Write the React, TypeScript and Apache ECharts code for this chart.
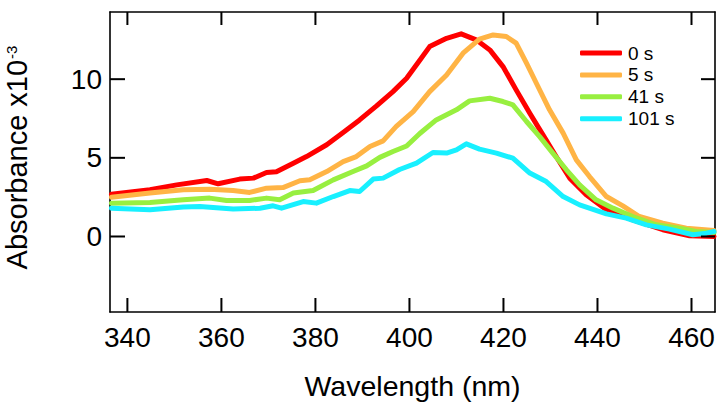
import React, { useEffect, useRef } from "react";
import * as echarts from "echarts";

const seriesNames = ["0 s", "5 s", "41 s", "101 s"];
const seriesColors = ["#ff0000", "#ffb445", "#98ef40", "#18f0ff"];

const redX = [336.6, 344.8, 350.5, 356.9, 359.3, 363.9, 366.8, 369.6, 371.7, 375.3, 378.1, 382.4, 385.9, 389.4, 393.0, 396.5, 399.4, 402.2, 404.3, 407.9, 411.0, 414.2, 417.1, 419.9, 422.7, 425.6, 428.4, 431.2, 434.1, 437.6, 441.9, 447.5, 453.9, 459.6, 464.8];
const redY = [2.68, 2.97, 3.28, 3.56, 3.35, 3.65, 3.71, 4.07, 4.11, 4.66, 5.08, 5.83, 6.61, 7.41, 8.3, 9.21, 10.06, 11.2, 12.07, 12.6, 12.88, 12.5, 11.86, 10.8, 9.32, 7.84, 6.46, 5.08, 3.71, 2.65, 1.7, 1.06, 0.43, 0.04, 0.0];

const orangeX = [336.6, 344.8, 351.9, 357.5, 362.5, 366.0, 369.6, 373.1, 376.7, 378.8, 382.4, 385.9, 388.7, 391.6, 394.4, 397.2, 400.8, 404.3, 407.9, 411.4, 414.9, 417.8, 420.6, 422.7, 424.9, 427.0, 429.8, 432.7, 435.5, 438.3, 441.9, 445.4, 448.9, 453.9, 458.9, 464.8];
const orangeY = [2.5, 2.76, 2.97, 3.01, 2.92, 2.8, 3.07, 3.11, 3.54, 3.6, 4.13, 4.76, 5.08, 5.72, 6.08, 7.0, 7.94, 9.21, 10.27, 11.65, 12.54, 12.81, 12.71, 12.29, 11.02, 9.74, 8.05, 6.57, 4.87, 3.81, 2.54, 1.95, 1.27, 0.85, 0.53, 0.38];

const greenX = [336.6, 344.8, 351.9, 357.5, 361.1, 366.0, 369.6, 372.4, 375.3, 379.5, 383.8, 388.0, 390.9, 393.7, 396.5, 399.4, 402.2, 405.7, 410.0, 412.8, 417.1, 419.9, 422.0, 424.9, 427.7, 430.5, 433.4, 436.2, 439.7, 443.3, 447.5, 452.5, 457.4, 461.0, 464.8];
const greenY = [2.12, 2.16, 2.33, 2.44, 2.29, 2.29, 2.44, 2.33, 2.76, 2.92, 3.6, 4.13, 4.49, 5.03, 5.4, 5.75, 6.55, 7.41, 8.05, 8.62, 8.79, 8.58, 8.37, 7.31, 6.35, 5.3, 4.24, 3.28, 2.33, 1.8, 1.27, 0.74, 0.53, 0.32, 0.25];

const cyanX = [336.6, 344.8, 351.9, 355.4, 362.5, 368.2, 371.0, 372.8, 377.4, 380.2, 383.8, 387.3, 389.4, 392.3, 394.4, 397.9, 401.5, 405.0, 407.9, 410.0, 412.1, 414.9, 418.5, 422.0, 425.6, 429.1, 432.7, 436.2, 441.9, 446.1, 450.4, 455.3, 460.3, 463.2, 464.8];
const cyanY = [1.8, 1.7, 1.87, 1.91, 1.74, 1.8, 1.95, 1.8, 2.22, 2.12, 2.54, 2.92, 2.86, 3.65, 3.71, 4.26, 4.66, 5.34, 5.3, 5.51, 5.89, 5.55, 5.3, 4.98, 4.03, 3.49, 2.54, 2.01, 1.44, 1.17, 0.74, 0.47, 0.11, 0.21, 0.32];

const xTicks = [340, 360, 380, 400, 420, 440, 460];
const yTicks = [0, 5, 10];
const xMin = 336.3;
const xMax = 465;
const yMin = -4.8;
const yMax = 14.27;

const FONT = "'Liberation Sans', Arial, Helvetica, sans-serif";

const GRID = { left: 110, right: 9, top: 12, bottom: 98 };
const W = 724;
const H = 410;

function pairs(xs: number[], ys: number[]) {
  return xs.map((x, i) => [x, ys[i]]);
}

function axLine() {
  return { show: true, onZero: false, lineStyle: { color: "#000000", width: 1.6 } };
}

export default function App() {
  const ref = useRef<HTMLDivElement>(null);
  useEffect(() => {
    document.body.style.margin = "0";
    if (!ref.current) return;
    const chart = echarts.init(ref.current, null, { renderer: "svg" });
    const data = [pairs(redX, redY), pairs(orangeX, orangeY), pairs(greenX, greenY), pairs(cyanX, cyanY)];

    const lineSeries = seriesNames.map((name, i) => ({
      name,
      type: "line",
      xAxisIndex: 0,
      yAxisIndex: 0,
      data: data[i],
      showSymbol: false,
      symbol: "none",
      color: seriesColors[i],
      lineStyle: { width: 5, color: seriesColors[i], cap: "round", join: "round" },
      z: 2 + i,
    }));

    chart.setOption({
      animation: false,
      grid: { ...GRID, containLabel: false, outerBoundsMode: "none" },
      legend: {
        orient: "vertical",
        left: 580,
        top: 43.5,
        padding: 0,
        itemWidth: 42,
        itemHeight: 5,
        itemGap: 2.9,
        icon: "roundRect",
        textStyle: { fontFamily: FONT, fontSize: 19, color: "#000", lineHeight: 18, padding: [0, 0, 0, 1] },
        data: seriesNames,
      },
      xAxis: [
        {
          type: "value",
          min: xMin,
          max: xMax,
          position: "bottom",
          axisLine: axLine(),
          axisTick: { show: false },
          axisLabel: { show: true, customValues: xTicks, margin: 11, fontSize: 28, color: "#000", fontFamily: FONT },
          splitLine: { show: false },
          name: "Wavelength (nm)",
          nameLocation: "middle",
          nameGap: 59,
          nameTextStyle: { fontSize: 28.5, color: "#000", fontFamily: FONT },
        },
        {
          type: "value",
          min: xMin,
          max: xMax,
          position: "top",
          axisLine: axLine(),
          axisTick: { show: false },
          axisLabel: { show: false },
          splitLine: { show: false },
        },
      ],
      yAxis: [
        {
          type: "value",
          min: yMin,
          max: yMax,
          position: "left",
          axisLine: axLine(),
          axisTick: { show: false },
          axisLabel: { show: true, customValues: yTicks, margin: 8, fontSize: 28, color: "#000", fontFamily: FONT },
          splitLine: { show: false },
          name: "{a|Absorbance x10}{sup|-3}",
          nameLocation: "middle",
          nameRotate: 90,
          nameGap: 79,
          nameTextStyle: {
            fontFamily: FONT,
            color: "#000",
            padding: [0, 0, 0, 9],
            rich: {
              a: { fontSize: 29, fontFamily: FONT, color: "#000", verticalAlign: "bottom" },
              sup: { fontSize: 15, fontFamily: FONT, color: "#000", verticalAlign: "bottom", padding: [0, 0, 12, 1] },
            },
          },
        },
        {
          type: "value",
          min: yMin,
          max: yMax,
          position: "right",
          axisLine: axLine(),
          axisTick: { show: false },
          axisLabel: { show: false },
          splitLine: { show: false },
        },
      ],
      series: lineSeries,
    });

    // Tick marks placed through the chart's own scales (convertToPixel)
    const gfx: any[] = [];
    const finder = { xAxisIndex: 0, yAxisIndex: 0 };
    xTicks.forEach((v) => {
      const b = chart.convertToPixel(finder, [v, yMin]) as number[];
      const t = chart.convertToPixel(finder, [v, yMax]) as number[];
      gfx.push({ type: "line", z: 100, shape: { x1: b[0], y1: b[1], x2: b[0], y2: b[1] - 14 }, style: { stroke: "#000", lineWidth: 2 } });
      gfx.push({ type: "line", z: 100, shape: { x1: t[0], y1: t[1], x2: t[0], y2: t[1] + 13 }, style: { stroke: "#000", lineWidth: 2 } });
    });
    yTicks.forEach((v) => {
      const l = chart.convertToPixel(finder, [xMin, v]) as number[];
      const r = chart.convertToPixel(finder, [xMax, v]) as number[];
      gfx.push({ type: "line", z: 100, shape: { x1: l[0], y1: l[1], x2: l[0] + 15, y2: l[1] }, style: { stroke: "#000", lineWidth: 2 } });
      gfx.push({ type: "line", z: 100, shape: { x1: r[0], y1: r[1], x2: r[0] - 14, y2: r[1] }, style: { stroke: "#000", lineWidth: 2 } });
    });
    chart.setOption({ graphic: { elements: gfx } });

    return () => chart.dispose();
  }, []);
  return <div ref={ref} style={{ width: W, height: H, background: "#fff" }} />;
}
